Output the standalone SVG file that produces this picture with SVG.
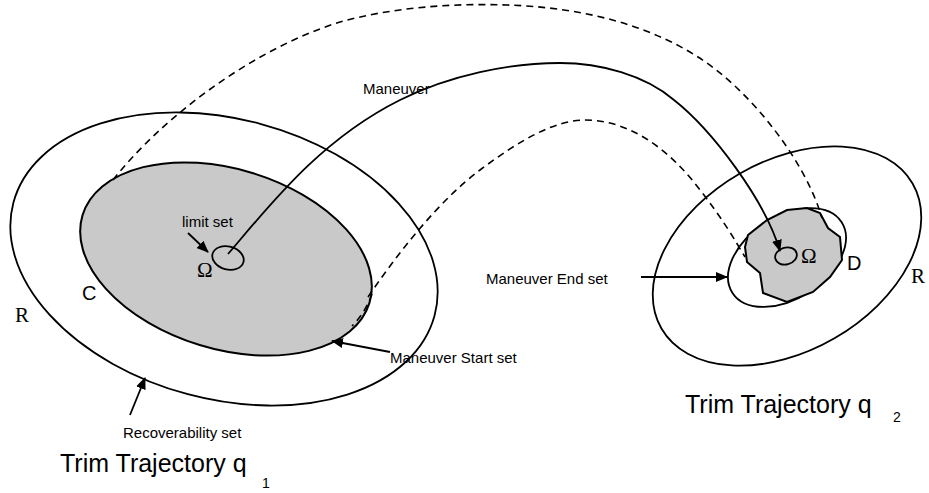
<svg xmlns="http://www.w3.org/2000/svg" width="929" height="493" viewBox="0 0 929 493">
<style>
.ln{fill:none;stroke:#000;stroke-width:1.8}
.dash{fill:none;stroke:#000;stroke-width:1.6;stroke-dasharray:7 5}
.gray{fill:#c9c9c9;stroke:#000;stroke-width:2}
.lbl{font-family:"Liberation Sans",Arial,sans-serif;font-size:15px;fill:#000}
.big{font-family:"Liberation Sans",Arial,sans-serif;font-size:25px;fill:#000}
.sub{font-family:"Liberation Sans",Arial,sans-serif;font-size:14px;fill:#000}
.let{font-family:"Liberation Sans",Arial,sans-serif;font-size:20px;fill:#000}
.ser{font-family:"Liberation Serif","Times New Roman",serif;font-size:21px;fill:#000}
</style>
<defs>
<marker id="ah" markerUnits="userSpaceOnUse" markerWidth="12" markerHeight="10" refX="11" refY="5" orient="auto">
<path d="M0,0 L12,5 L0,10 Z" fill="#000"/>
</marker>
</defs>
<rect width="929" height="493" fill="#fff"/>

<g id="trim1">
<ellipse id="R1" class="ln" cx="224" cy="259" rx="218" ry="140" transform="rotate(15 224 259)"/>
<ellipse id="C1" class="gray" cx="226" cy="259" rx="150" ry="90" transform="rotate(17 226 259)"/>
<ellipse id="omega1" class="ln" cx="228" cy="258" rx="16" ry="11.5" transform="rotate(15 228 258)"/>
<text class="ser" x="197" y="277" font-size="20">Ω</text>
<text class="let" x="82" y="300">C</text>
<text class="ser" x="15" y="322">R</text>
<text class="lbl" x="182" y="227">limit set</text>
<text class="lbl" x="390" y="363">Maneuver Start set</text>
<text class="lbl" x="123" y="438">Recoverability set</text>
<text class="big" x="60" y="472">Trim Trajectory q</text>
<text class="sub" x="262" y="488">1</text>
</g>

<g id="trim2">
<ellipse id="R2" class="ln" cx="787" cy="256" rx="145" ry="95" transform="rotate(-30 787 256)"/>
<ellipse id="E2" class="ln" cx="787" cy="257.5" rx="65" ry="41" transform="rotate(-33 787 257.5)"/>
<path id="D2" class="gray" d="M748,235 L767,220 L787,210 L807,208 L820,213 L828,228 L840,237 L842,260 L830,277 L813,292 L787,302 L763,293 L760,273 L747,262 L745,247 Z"/>
<ellipse id="omega2" class="ln" cx="786" cy="256" rx="11" ry="8.5" transform="rotate(-15 786 256)"/>
<text class="ser" x="801" y="263" font-size="20">Ω</text>
<text class="let" x="847" y="270">D</text>
<text class="ser" x="911" y="283">R</text>
<text class="lbl" x="486" y="284">Maneuver End set</text>
<text class="big" x="685" y="413">Trim Trajectory q</text>
<text class="sub" x="893" y="422">2</text>
</g>

<g id="connectors">
<path class="dash" d="M113,180 C160,120 250,50 340,22 C390,8 450,3 507,5 C570,7 640,20 698,57 C750,90 805,160 822,218"/>
<path class="dash" d="M368,297 C400,250 440,200 480,170 C520,140 555,120 585,120 C630,120 670,150 700,190 C720,215 735,240 745,257"/>
<path class="dash" d="M372,294 C368,305 362,316 352,326"/>
<path class="ln" d="M228,254 C270,205 320,140 400,100 C450,75 510,63 560,63 C600,63 645,75 674,100 C712,130 765,200 780,251" marker-end="url(#ah)"/>
<text class="lbl" x="363" y="94">Maneuver</text>
<line class="ln" x1="188" y1="233" x2="208" y2="252" marker-end="url(#ah)"/>
<line class="ln" x1="390" y1="352" x2="332" y2="341" marker-end="url(#ah)"/>
<line class="ln" x1="130" y1="415" x2="145" y2="378" marker-end="url(#ah)"/>
<line class="ln" x1="641" y1="277" x2="727" y2="277" marker-end="url(#ah)"/>
</g>
</svg>
